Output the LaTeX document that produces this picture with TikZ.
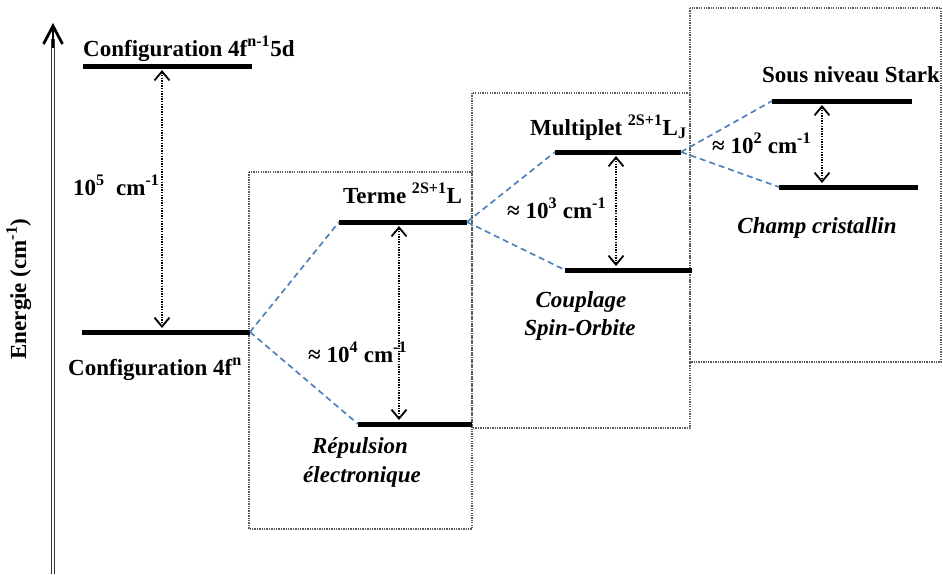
\documentclass[tikz,border=0pt]{standalone}
\usepackage{fontspec}
\setmainfont{Liberation Serif}
\usetikzlibrary{arrows.meta}
\definecolor{splitblue}{RGB}{79,129,189}
\definecolor{boxgray}{RGB}{90,90,90}
\begin{document}
\begin{tikzpicture}[x=1pt,y=-1pt,
  lbl/.style={font=\fontsize{23}{27}\selectfont\bfseries, inner sep=0pt},
  ilbl/.style={font=\fontsize{23}{27}\selectfont\bfseries\itshape, inner sep=0pt},
  level/.style={line width=5pt},
  gaptip/.tip={Straight Barb[length=9pt,width=15pt,line width=1.8pt]},
  gaparrow/.style={line width=1.5pt, dash pattern=on 1.4pt off 1.2pt, gaptip-gaptip},
  split/.style={draw=splitblue, line width=1.7pt, dash pattern=on 6pt off 4pt},
  region/.style={draw=boxgray, line width=1.1pt, dash pattern=on 1.3pt off 1.1pt}]
\useasboundingbox (0,0) rectangle (943,574);

% regions
\draw[region] (249,172) rectangle (472,529);
\draw[region] (472,93) rectangle (690,428);
\draw[region] (690,8) rectangle (941,362);

% energy axis
\coordinate (axbot) at (53,574);
\coordinate (axtop) at (53,23);
\coordinate (axhead) at (53,48);
\draw[double=white, double distance=1.6pt, line width=1pt, draw=black!80, shorten >=16pt] (axbot) -- (axtop);
\draw[line width=2.6pt, -{Straight Barb[length=18pt,width=19pt,line width=2.8pt]}] (axhead) -- (axtop);
\node[lbl, rotate=90, anchor=base] (axlabel) at (26,289) {Energie (cm\textsuperscript{-1})};

% levels
\coordinate (L5dl) at (83,66);   \coordinate (L5dr) at (252,66);
\coordinate (L4fl) at (82,332);  \coordinate (L4fr) at (250,332);
\coordinate (Ltl) at (339,222);  \coordinate (Ltr) at (467,222);
\coordinate (Lrl) at (358,424);  \coordinate (Lrr) at (472,424);
\coordinate (Lml) at (555,152);  \coordinate (Lmr) at (681,152);
\coordinate (Lol) at (565,270);  \coordinate (Lor) at (692,270);
\coordinate (Lsal) at (772,101); \coordinate (Lsar) at (912,101);
\coordinate (Lsbl) at (779,187); \coordinate (Lsbr) at (918,187);
\foreach \a/\b in {L5dl/L5dr,L4fl/L4fr,Ltl/Ltr,Lrl/Lrr,Lml/Lmr,Lol/Lor,Lsal/Lsar,Lsbl/Lsbr}
  \draw[level] (\a) -- (\b);

% splittings
\draw[split] (L4fr) -- (Ltl);
\draw[split] (L4fr) -- (Lrl);
\draw[split] (Ltr) -- (Lml);
\draw[split] (Ltr) -- (Lol);
\draw[split] (Lmr) -- (Lsal);
\draw[split] (Lmr) -- (Lsbl);

% gap arrows
\coordinate (g1a) at (162,70);  \coordinate (g1b) at (162,328);
\coordinate (g2a) at (399,226); \coordinate (g2b) at (399,420);
\coordinate (g3a) at (616,156); \coordinate (g3b) at (616,266);
\coordinate (g4a) at (822,105); \coordinate (g4b) at (822,183);
\draw[gaparrow] (g1a) -- (g1b);
\draw[gaparrow] (g2a) -- (g2b);
\draw[gaparrow] (g3a) -- (g3b);
\draw[gaparrow] (g4a) -- (g4b);

% labels
\node[lbl, anchor=base west] (cfg5d) at (83,56) {Configuration 4f\textsuperscript{n-1}5d};
\node[lbl, anchor=base west] (cfg4f) at (68,375) {Configuration 4f\textsuperscript{n}};
\node[lbl, anchor=base west] (e5) at (73,195) {10\textsuperscript{5}\ \ cm\textsuperscript{-1}};
\node[lbl, anchor=base west] (terme) at (343,203) {Terme \textsuperscript{2S+1}L};
\node[lbl, anchor=base west] (e4) at (308,362) {≈ 10\textsuperscript{4} cm\textsuperscript{-1}};
\node[ilbl, anchor=base] (rep1) at (360,453) {Répulsion};
\node[ilbl, anchor=base] (rep2) at (362,482) {électronique};
\node[lbl, anchor=base west] (mult) at (530,135) {Multiplet \textsuperscript{2S+1}L\textsubscript{J}};
\node[lbl, anchor=base west] (e3) at (507,218) {≈ 10\textsuperscript{3} cm\textsuperscript{-1}};
\node[ilbl, anchor=base] (cp1) at (581,307) {Couplage};
\node[ilbl, anchor=base] (cp2) at (580,335) {Spin-Orbite};
\node[lbl, anchor=base west] (stark) at (762,82) {Sous niveau Stark};
\node[lbl, anchor=base west] (e2) at (712,153) {≈ 10\textsuperscript{2} cm\textsuperscript{-1}};
\node[ilbl, anchor=base] (champ) at (817,233) {Champ cristallin};
\end{tikzpicture}
\end{document}
